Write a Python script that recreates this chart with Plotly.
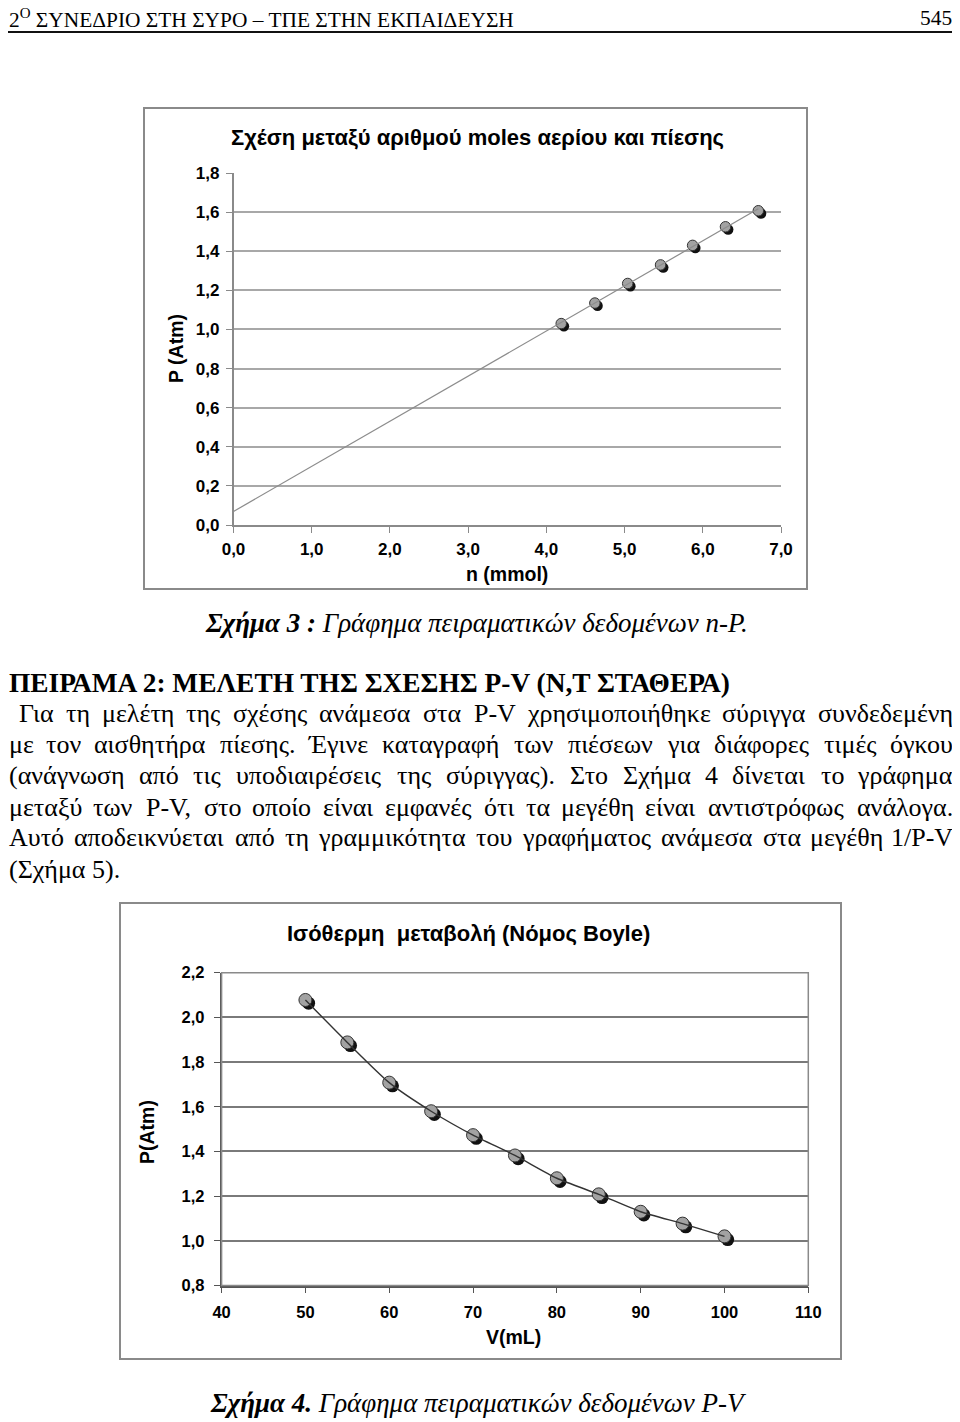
import numpy as np
import plotly.graph_objects as go

# The page body has an 8px default margin, so the figure is offset by (8, 8).
OX, OY = 8, 8
PAGE_W, PAGE_H = 960, 1422
W, H = PAGE_W - OX, PAGE_H - OY

# ---------------- data ----------------
# Figure 3: n - P
n_mmol = [4.19, 4.62, 5.04, 5.46, 5.87, 6.29, 6.71]
p_atm_n = [1.03, 1.135, 1.235, 1.33, 1.43, 1.525, 1.607]
n_ticks = [0, 1, 2, 3, 4, 5, 6, 7]
p1_ticks = [0.0, 0.2, 0.4, 0.6, 0.8, 1.0, 1.2, 1.4, 1.6, 1.8]

# Figure 4: V - P
v_ml = [50, 55, 60, 65, 70, 75, 80, 85, 90, 95, 100]
p_atm_v = [2.078, 1.888, 1.708, 1.58, 1.473, 1.382, 1.28, 1.208, 1.13, 1.077, 1.02]
v_ticks = [40, 50, 60, 70, 80, 90, 100, 110]
p2_ticks = [0.8, 1.0, 1.2, 1.4, 1.6, 1.8, 2.0, 2.2]

header_left = "2<sup>O</sup> ΣΥΝΕΔΡΙΟ ΣΤΗ ΣΥΡΟ – ΤΠΕ ΣΤΗΝ ΕΚΠΑΙΔΕΥΣΗ"
header_right = "545"
title1 = "Σχέση μεταξύ αριθμού moles αερίου και πίεσης"
title2 = "Ισόθερμη\u00a0\u00a0μεταβολή (Νόμος Boyle)"
caption1 = "<b><i>Σχήμα 3 :</i></b><i> Γράφημα πειραματικών δεδομένων n-P.</i>"
caption2 = "<b><i>Σχήμα 4.</i></b><i> Γράφημα πειραματικών δεδομένων P-V</i>"
heading = "ΠΕΙΡΑΜΑ 2: ΜΕΛΕΤΗ ΤΗΣ ΣΧΕΣΗΣ P-V (N,T ΣΤΑΘΕΡΑ)"
para_lines = [
    "Για τη μελέτη της σχέσης ανάμεσα στα P-V χρησιμοποιήθηκε σύριγγα συνδεδεμένη",
    "με τον αισθητήρα πίεσης. Έγινε καταγραφή των πιέσεων για διάφορες τιμές όγκου",
    "(ανάγνωση από τις υποδιαιρέσεις της σύριγγας). Στο Σχήμα 4 δίνεται το γράφημα",
    "μεταξύ των P-V, στο οποίο είναι εμφανές ότι τα μεγέθη είναι αντιστρόφως ανάλογα.",
    "Αυτό αποδεικνύεται από τη γραμμικότητα του γραφήματος ανάμεσα στα μεγέθη 1/P-V",
]
para_last = "(Σχήμα 5)."

# ---------------- helpers (page pixels -> paper fractions) ----------------
def px(x):
    return (x - OX) / W


def py(y):
    return 1 - (y - OY) / H


CW = {' ': 250, ',': 250, '.': 250, ':': 278, '(': 333, ')': 333, '-': 333, '/': 278}
for c in "0123456789":
    CW[c] = 500
CW.update(dict(a=444, b=500, c=444, d=500, e=444, f=333, g=500, h=500, i=278, j=278, k=500,
               l=278, m=778, n=500, o=500, p=500, q=500, r=333, s=389, t=278, u=500, v=500,
               w=722, x=500, y=500, z=444, P=556, V=722, N=722, T=611, S=556, B=667))
CW.update(dict(α=531, ά=531, β=497, γ=451, δ=500, ε=421, έ=421, ζ=426, η=500, ή=500, θ=480,
               ι=277, ί=277, ϊ=277, κ=483, λ=482, μ=535, ν=458, ξ=430, ο=500, ό=500, π=544,
               ρ=500, σ=529, ς=412, τ=433, υ=500, ύ=500, φ=640, χ=480, ψ=670, ω=686, ώ=686))
CW.update(dict(Α=722, Β=667, Γ=578, Δ=643, Ε=611, Έ=700, Ζ=611, Η=722, Θ=722, Ι=333, Κ=722,
               Λ=710, Μ=889, Ν=722, Ξ=643, Ο=722, Π=722, Ρ=556, Σ=582, Τ=611, Υ=722, Φ=784,
               Χ=722, Ψ=822, Ω=768))


def text_w(s, size):
    return sum(CW.get(c, 500) for c in s) * size / 1000.0


SERIF = "Liberation Serif"
SANS = "Liberation Sans"
BODY_SIZE = 26
LEFT = 8

annotations = []


def add_text(text, x, y, size, family=SERIF, xanchor="center", angle=0, color="black"):
    annotations.append(dict(text=text, x=px(x), y=py(y), xref="paper", yref="paper",
                            xanchor=xanchor, yanchor="middle", showarrow=False,
                            textangle=angle, borderpad=0,
                            font=dict(family=family, size=size, color=color)))


def justify(line, left, right, y, size):
    words = line.split(" ")
    ws = [text_w(w, size) for w in words]
    gap = (right - left - sum(ws)) / (len(words) - 1)
    if gap < 0.22 * size:
        size = size * (right - left) / (sum(ws) + (len(words) - 1) * 0.22 * size)
        ws = [text_w(w, size) for w in words]
        gap = (right - left - sum(ws)) / (len(words) - 1)
    pos = left
    for i, (w, ww) in enumerate(zip(words, ws)):
        if i == 0:
            add_text(w, left, y, size, xanchor="left")
        elif i == len(words) - 1:
            add_text(w, right, y, size, xanchor="right")
        else:
            add_text(w, pos + ww / 2, y, size, xanchor="center")
        pos += ww + gap


# ---------------- chart geometry (page pixels) ----------------
C1 = dict(x0=233.5, x1=781.0, top=173.0, bottom=525.0)
C2 = dict(x0=221.6, x1=808.3, top=972.7, bottom=1285.5)
c1_xr, c1_yr = [0, 7], [0, 1.8]
c2_xr, c2_yr = [40, 110], [0.8, 2.2]


def dom(c):
    return [px(c["x0"]), px(c["x1"])], [py(c["bottom"]), py(c["top"])]


d1x, d1y = dom(C1)
d2x, d2y = dom(C2)


def shifted(c, xr, yr, dx, dy):
    ux = (xr[1] - xr[0]) / (c["x1"] - c["x0"])
    uy = (yr[1] - yr[0]) / (c["bottom"] - c["top"])
    return [xr[0] - dx * ux, xr[1] - dx * ux], [yr[0] + dy * uy, yr[1] + dy * uy]


s1x, s1y = shifted(C1, c1_xr, c1_yr, 2.7, 2.7)
s2x, s2y = shifted(C2, c2_xr, c2_yr, 3.2, 3.2)

fig = go.Figure()

# ---- chart 1 traces ----
fig.add_trace(go.Scatter(x=n_mmol, y=p_atm_n, mode="markers", xaxis="x", yaxis="y",
                         marker=dict(size=1, opacity=0), hoverinfo="skip", showlegend=False))
fig.add_trace(go.Scatter(x=n_mmol, y=p_atm_n, mode="markers", xaxis="x2", yaxis="y2",
                         marker=dict(size=10.5, color="#111111", line=dict(width=0)),
                         hoverinfo="skip", showlegend=False))
fig.add_trace(go.Scatter(x=n_mmol, y=p_atm_n, mode="markers", xaxis="x3", yaxis="y3",
                         marker=dict(size=10.5, color="#a2a2a2", line=dict(width=1, color="#333333")),
                         showlegend=False))
coef = np.polyfit(n_mmol, p_atm_n, 1)
trend_x = [0.0, max(n_mmol)]
trend_y = list(np.polyval(coef, trend_x))
fig.add_trace(go.Scatter(x=trend_x, y=trend_y, mode="lines", xaxis="x3", yaxis="y3",
                         line=dict(color="#8c8c8c", width=1.2), showlegend=False))

# ---- chart 2 traces ----
fig.add_trace(go.Scatter(x=v_ml, y=p_atm_v, mode="markers", xaxis="x4", yaxis="y4",
                         marker=dict(size=1, opacity=0), hoverinfo="skip", showlegend=False))
fig.add_trace(go.Scatter(x=v_ml, y=p_atm_v, mode="markers", xaxis="x5", yaxis="y5",
                         marker=dict(size=13, color="#111111", line=dict(width=0)),
                         hoverinfo="skip", showlegend=False))
fig.add_trace(go.Scatter(x=v_ml, y=p_atm_v, mode="markers", xaxis="x6", yaxis="y6",
                         marker=dict(size=13, color="#a2a2a2", line=dict(width=1, color="#333333")),
                         showlegend=False))
fig.add_trace(go.Scatter(x=v_ml, y=p_atm_v, mode="lines", xaxis="x6", yaxis="y6",
                         line=dict(color="#333333", width=1.4, shape="spline", smoothing=0.6),
                         showlegend=False))

tick1 = dict(family=SANS, size=17, color="black", weight="bold")
tick2 = dict(family=SANS, size=16.5, color="black", weight="bold")
hidden = dict(visible=False, showgrid=False, zeroline=False, fixedrange=True)

fig.update_layout(
    width=W, height=H, autosize=False,
    margin=dict(l=0, r=0, t=0, b=0, pad=0),
    paper_bgcolor="white", plot_bgcolor="rgba(0,0,0,0)",
    separators=", ",
    showlegend=False,
    xaxis=dict(domain=d1x, range=c1_xr, anchor="y", tickvals=n_ticks, tickformat=".1f",
               ticks="outside", ticklen=6, tickcolor="#8a8a8a", tickwidth=1.2,
               showline=True, linecolor="#8a8a8a", linewidth=1.5, showgrid=False,
               zeroline=False, tickfont=tick1, ticklabelstandoff=2, automargin=False),
    yaxis=dict(domain=d1y, range=c1_yr, anchor="x", tickvals=p1_ticks, tickformat=".1f",
               ticks="outside", ticklen=6, tickcolor="#8a8a8a", tickwidth=1.2,
               showline=True, linecolor="#8a8a8a", linewidth=1.5, showgrid=True,
               gridcolor="#a8a8a8", gridwidth=1.5, zeroline=False, tickfont=tick1,
               ticklabelstandoff=3, automargin=False),
    xaxis2=dict(hidden, domain=d1x, range=s1x, overlaying="x", anchor="y2"),
    yaxis2=dict(hidden, domain=d1y, range=s1y, overlaying="y", anchor="x2"),
    xaxis3=dict(hidden, domain=d1x, range=c1_xr, overlaying="x", anchor="y3"),
    yaxis3=dict(hidden, domain=d1y, range=c1_yr, overlaying="y", anchor="x3"),
    xaxis4=dict(domain=d2x, range=c2_xr, anchor="y4", tickvals=v_ticks,
                ticks="outside", ticklen=6, tickcolor="#555555", tickwidth=1.2,
                showline=True, linecolor="#555555", linewidth=1.5, showgrid=False,
                zeroline=False, tickfont=tick2, ticklabelstandoff=5, automargin=False),
    yaxis4=dict(domain=d2y, range=c2_yr, anchor="x4", tickvals=p2_ticks, tickformat=".1f",
                ticks="outside", ticklen=6, tickcolor="#555555", tickwidth=1.2,
                showline=True, linecolor="#555555", linewidth=1.5, showgrid=True,
                gridcolor="#7a7a7a", gridwidth=1.8, zeroline=False, tickfont=tick2,
                ticklabelstandoff=6, automargin=False),
    xaxis5=dict(hidden, domain=d2x, range=s2x, overlaying="x4", anchor="y5"),
    yaxis5=dict(hidden, domain=d2y, range=s2y, overlaying="y4", anchor="x5"),
    xaxis6=dict(hidden, domain=d2x, range=c2_xr, overlaying="x4", anchor="y6"),
    yaxis6=dict(hidden, domain=d2y, range=c2_yr, overlaying="y4", anchor="x6"),
)

shapes = [
    # header rule
    dict(type="line", xref="paper", yref="paper", x0=px(0), x1=px(PAGE_W), y0=py(32), y1=py(32),
         line=dict(color="#111111", width=2)),
    # chart boxes
    dict(type="rect", xref="paper", yref="paper", x0=px(144), x1=px(807), y0=py(589), y1=py(108),
         line=dict(color="#8a8a8a", width=2)),
    dict(type="rect", xref="paper", yref="paper", x0=px(120), x1=px(841), y0=py(1359), y1=py(903),
         line=dict(color="#8a8a8a", width=2)),
    # plot-area frame of chart 2
    dict(type="rect", xref="x4 domain", yref="y4 domain", x0=0, x1=1, y0=0, y1=1,
         line=dict(color="#8a8a8a", width=1.5)),
]

# ---- texts ----
add_text(header_left, LEFT, 18, 21.4, xanchor="left")
add_text(header_right, 953, 18, 21.4, xanchor="right")

add_text("<b>" + title1 + "</b>", 477, 138, 22, family=SANS)
add_text("<b>n (mmol)</b>", 507, 574, 19.5, family=SANS)
add_text("<b>P (Atm)</b>", 176, 349, 19.5, family=SANS, angle=-90)

add_text(caption1, 476, 623, 27)

add_text("<b>" + heading + "</b>", LEFT, 683, 27.4, xanchor="left")
line_y = [713, 744, 775, 807, 838]
for i, (ln, yy) in enumerate(zip(para_lines, line_y)):
    justify(ln, 18 if i == 0 else LEFT, 954, yy, BODY_SIZE)
add_text(para_last, LEFT, 870, BODY_SIZE, xanchor="left")

add_text("<b>" + title2 + "</b>", 468, 933, 22, family=SANS)
add_text("<b>V(mL)</b>", 513, 1337, 19.5, family=SANS)
add_text("<b>P(Atm)</b>", 147, 1132, 19.5, family=SANS, angle=-90)

add_text(caption2, 478, 1403, 27)

fig.update_layout(shapes=shapes, annotations=annotations)
fig.write_html("out.html", config={"displayModeBar": False})
